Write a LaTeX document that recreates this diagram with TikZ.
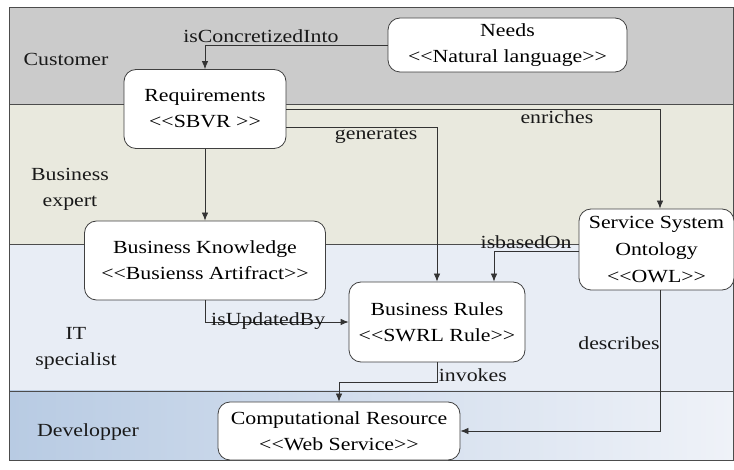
\documentclass[tikz,border=0pt]{standalone}
\usepackage{fontspec}
\setmainfont[FakeStretch=1.18]{Liberation Serif}
\usepackage{tikz}
\usetikzlibrary{arrows.meta}
\definecolor{custgray}{HTML}{CBCBCB}
\definecolor{bizbeige}{HTML}{E9E9DE}
\definecolor{itblue}{HTML}{E8EDF5}
\definecolor{devleft}{HTML}{B8CBE3}
\definecolor{devright}{HTML}{EFF2F8}
\newcommand{\stereo}[1]{<{}<#1>{}>}
\tikzstyle{entity} = [rectangle, rounded corners=12pt, draw=black!75, line width=0.8pt, fill=white, text centered, align=center, inner sep=2pt]
\tikzstyle{arrow} = [line width=0.8pt, draw=black!80, ->, >={Latex[length=8pt,width=6.5pt]}]
\tikzstyle{lane} = [draw=black!70, line width=0.8pt]
\tikzstyle{lanelabel} = [align=center, text=black!90]
\tikzstyle{rel} = [inner sep=1.5pt, text=black!90]

\begin{document}
\begin{tikzpicture}[x=1pt, y=-1pt, font=\fontsize{18.5}{26}\selectfont]
	\useasboundingbox (0,0) rectangle (734,470);
	% lanes
	\fill [custgray] (9,7) rectangle (733,104);
	\fill [bizbeige] (9,104) rectangle (733,244);
	\fill [itblue] (9,244) rectangle (733,391);
	\shade [left color=devleft, right color=devright] (9,391) rectangle (733,460);
	\draw [lane] (9,7) rectangle (733,460);
	\draw [lane] (9,104) -- (733,104);
	\draw [lane] (9,244) -- (733,244);
	\draw [lane] (9,391) -- (733,391);

	\node (customer) [lanelabel] at (66,59) {Customer};
	\node (bizexpert) [lanelabel] at (70,189) {Business\\expert};
	\node (itspec) [lanelabel] at (76,348) {IT\\specialist};
	\node (developer) [lanelabel] at (88,432) {Developper};

	% entities
	\node (needs) [entity, minimum width=239pt, minimum height=54pt] at (507.5,45) {Needs\\\stereo{Natural language}};
	\node (req) [entity, minimum width=162pt, minimum height=79pt] at (205,109) {Requirements\\\stereo{SBVR }};
	\node (know) [entity, minimum width=241pt, minimum height=79pt] at (205,260.5) {Business Knowledge\\\stereo{Busienss Artifract}};
	\node (rules) [entity, minimum width=176pt, minimum height=80pt] at (437,322) {Business Rules\\\stereo{SWRL Rule}};
	\node (ont) [entity, minimum width=155pt, minimum height=81pt, font=\fontsize{18.5}{27}\selectfont] at (656.5,249.5) {Service System\\Ontology\\\stereo{OWL}};
	\node (res) [entity, minimum width=242pt, minimum height=58pt] at (339,431) {Computational Resource\\\stereo{Web Service}};

	% relations
	\draw [arrow] (needs.west) -| node [rel, above, pos=0.347] {isConcretizedInto} (req.north);
	\draw [arrow] (req.east) -| node [rel, below, pos=0.362] {enriches} ([xshift=3.5pt]ont.north);
	\draw [arrow] ([yshift=-18pt]req.east) -| node [rel, below, pos=0.298] {generates} (rules.north);
	\draw [arrow] (req.south) -- (know.north);
	\draw [arrow] ([yshift=-1.5pt]ont.west) -| node [rel, above, pos=0.31] {isbasedOn} ([xshift=57pt]rules.north);
	\draw [arrow] (know.south) |- node [rel, pos=0.72, yshift=1pt] {isUpdatedBy} (rules.west);
	\draw [arrow] (rules.south) -- node [rel, right, pos=0.65] {invokes} ++(0,20) -| (res.north);
	\draw [arrow] ([xshift=3.5pt]ont.south) |- node [rel, left, pos=0.188, inner sep=0pt] {describes} (res.east);
\end{tikzpicture}
\end{document}
